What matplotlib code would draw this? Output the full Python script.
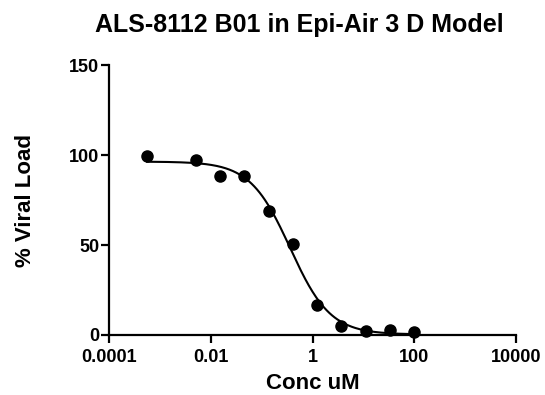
import numpy as np
import matplotlib
matplotlib.use('Agg')
import matplotlib.pyplot as plt
from matplotlib.ticker import FixedLocator, NullLocator

# data (3-fold dilution series, one dose missing)
conc = [0.00056, 0.0051, 0.0152, 0.0457, 0.137, 0.41, 1.23, 3.7, 11.1, 33.3, 100.0]
viral = [99.6, 97.2, 88.3, 88.3, 68.9, 50.4, 16.7, 5.2, 2.2, 2.8, 1.5]

xticks = [0.0001, 0.01, 1, 100, 10000]
xticklabels = ['0.0001', '0.01', '1', '100', '10000']
yticks = [0, 50, 100, 150]

plt.rcParams['font.family'] = ['Liberation Sans', 'DejaVu Sans']
plt.rcParams['font.weight'] = 'bold'


def fit_4pl(x, y):
    # crude grid search on logEC50 / hill, top & bottom by linear least squares
    lx = np.log10(x)
    y = np.asarray(y)
    best = None
    for lc in np.linspace(-2, 1, 301):
        for h in np.linspace(0.5, 3, 251):
            s = 1.0 / (1.0 + 10 ** ((lx - lc) * h))
            A = np.column_stack([s, 1 - s])
            coef, *_ = np.linalg.lstsq(A, y, rcond=None)
            err = np.sum((A @ coef - y) ** 2)
            if best is None or err < best[0]:
                best = (err, lc, h, coef[0], coef[1])
    return best[1:]


lc, h, top, bot = fit_4pl(conc, viral)
xs = np.logspace(np.log10(conc[0]), np.log10(conc[-1]), 300)
ys = bot + (top - bot) / (1 + 10 ** ((np.log10(xs) - lc) * h))

fig = plt.figure(figsize=(5.45, 3.95), dpi=100, facecolor='white')
ax = fig.add_axes([0.200, 0.152, 0.747, 0.683])

ax.plot(xs, ys, '-', color='black', lw=1.5, zorder=1)
ax.plot(conc, viral, 'o', color='black', ms=8, zorder=2, clip_on=False)

ax.set_xscale('log')
ax.set_xlim(0.0001, 10000)
ax.set_ylim(0, 150)
ax.xaxis.set_major_locator(FixedLocator(xticks))
ax.xaxis.set_minor_locator(NullLocator())
ax.set_xticklabels(xticklabels)
ax.set_yticks(yticks)

for s in ['top', 'right']:
    ax.spines[s].set_visible(False)
for s in ['left', 'bottom']:
    ax.spines[s].set_linewidth(1.6)
ax.tick_params(direction='out', length=6, width=1.6, labelsize=13)
ax.tick_params(axis='y', pad=1)
ax.tick_params(axis='x', pad=4)
for lab in ax.get_xticklabels() + ax.get_yticklabels():
    lab.set_fontweight('bold')

fig.text(0.55, 0.919, 'ALS-8112 B01 in Epi-Air 3 D Model', fontsize=18,
         fontweight='bold', ha='center', va='baseline')
ax.set_xlabel('Conc uM', fontsize=16, fontweight='bold', labelpad=5)
ax.set_ylabel('% Viral Load', fontsize=16, fontweight='bold', labelpad=24)

plt.savefig('out.png', dpi=100, facecolor=fig.get_facecolor())
